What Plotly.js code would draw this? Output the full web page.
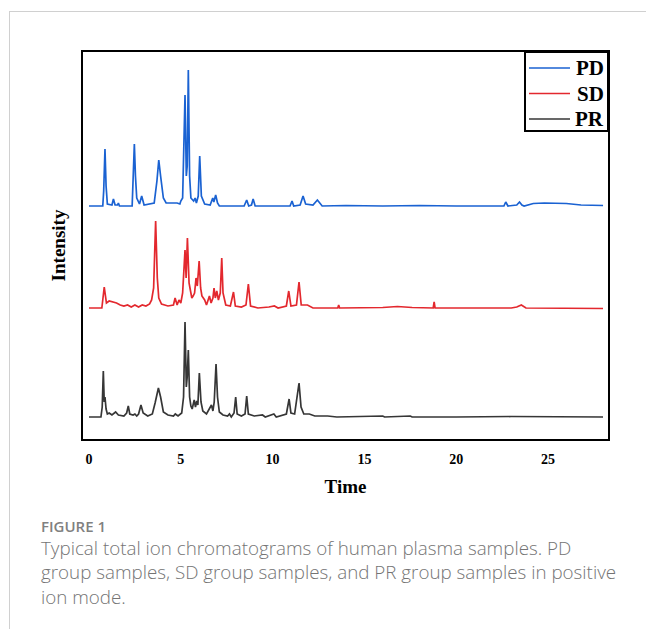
<!DOCTYPE html>
<html>
<head>
<meta charset="utf-8">
<script src="https://cdn.plot.ly/plotly-3.0.1.min.js"></script>
<style>
html,body{margin:0;padding:0;background:#fff;}
#chart{width:646px;height:629px;}
</style>
</head>
<body>
<div id="chart"></div>
<script>
// Series names
const seriesNames = ["PD", "SD", "PR"];
const xTickVals = [0, 5, 10, 15, 20, 25];
const xTickText = ["0", "5", "10", "15", "20", "25"];

// [time, intensity above own baseline] (arbitrary units)
const pdPoints = [[0,0],[0.75,0],[0.8,15],[0.87,57],[0.93,20],[1.0,2],[1.25,1],[1.33,7],[1.42,1],[1.55,1],[1.6,3],[1.66,0],
  [2.35,0],[2.47,62],[2.53,30],[2.6,8],[2.75,2],[2.87,10],[3.0,1],[3.55,3],[3.7,25],[3.8,46],[3.9,30],[4.05,8],[4.2,3],
  [4.5,3],[4.8,3],[4.95,2],[5.0,5],[5.1,8],[5.23,111],[5.3,30],[5.35,40],[5.41,136],[5.48,30],[5.55,8],[5.7,5],[5.78,8],
  [5.85,3],[5.95,10],[6.03,50],[6.12,10],[6.3,2],[6.6,1],[6.74,8],[6.8,4],[6.9,11],[7.0,3],[7.1,0],[8.45,0],[8.59,6],
  [8.7,0],[8.85,1],[8.94,7],[9.05,0],[10.95,0],[11.06,5],[11.15,0],[11.5,1],[11.66,10],[11.8,2],[12.2,1],[12.44,6],
  [12.7,0],[14,0.5],[16,0],[18,0.5],[20,0],[22.6,0],[22.7,4],[22.76,1],[22.82,0],[23.3,1],[23.45,4],[23.58,1],[23.7,0],
  [24.2,2.5],[24.8,3],[26.0,2.5],[26.8,1],[28.0,0.5]];

const sdPoints = [[0,0],[0.7,0],[0.83,21],[0.95,5],[1.1,7],[1.3,6],[1.5,5],[1.7,3],[1.9,2],[2.1,3],[2.3,1],[2.5,3],[2.7,1],
  [2.9,3],[3.1,2],[3.3,4],[3.41,8],[3.52,20],[3.63,87],[3.72,30],[3.8,10],[3.95,4],[4.3,2],[4.6,3],[4.69,10],[4.8,3],
  [4.9,8],[5.0,5],[5.1,15],[5.23,58],[5.29,30],[5.36,70],[5.45,25],[5.52,18],[5.6,10],[5.67,12],[5.75,15],[5.83,30],
  [5.9,22],[6.0,47],[6.08,20],[6.15,12],[6.3,8],[6.4,3],[6.56,12],[6.65,5],[6.75,10],[6.81,20],[6.88,10],[6.96,17],
  [7.05,8],[7.15,15],[7.23,50],[7.3,15],[7.45,3],[7.7,2],[7.87,16],[7.97,2],[8.3,1],[8.55,3],[8.68,24],[8.8,2],[9.2,0],
  [9.8,1],[10.1,2],[10.3,0],[10.75,2],[10.88,17],[11.0,2],[11.3,3],[11.44,26],[11.56,3],[11.9,3],[12.2,0],[13.55,0],
  [13.6,3],[13.65,0],[16.0,0.5],[16.8,1.5],[17.6,0.5],[18.75,0],[18.8,6],[18.85,0],[20.5,0],[23.0,0],[23.3,1],[23.55,3],
  [23.8,0],[28.0,-0.5]];

const prPoints = [[0,0],[0.65,0],[0.72,10],[0.78,46],[0.83,15],[0.87,20],[0.93,8],[1.0,3],[1.1,4],[1.25,2],[1.45,5],[1.6,2],
  [1.9,1],[2.05,4],[2.14,11],[2.22,3],[2.4,2],[2.5,3],[2.6,1],[2.7,3],[2.83,12],[2.95,4],[3.2,1],[3.45,3],[3.6,14],
  [3.78,29],[3.9,20],[4.05,5],[4.3,2],[4.6,1],[4.7,3],[4.85,1],[5.05,4],[5.15,20],[5.23,95],[5.3,30],[5.35,40],[5.41,67],
  [5.48,20],[5.55,11],[5.62,8],[5.73,17],[5.8,10],[5.87,16],[5.93,12],[6.01,44],[6.1,15],[6.2,6],[6.4,3],[6.55,8],
  [6.67,12],[6.75,6],[6.82,15],[6.92,53],[7.0,20],[7.1,5],[7.3,2],[7.55,1],[7.65,3],[7.75,0],[7.9,4],[7.99,20],[8.07,3],
  [8.3,1],[8.5,3],[8.59,21],[8.68,3],[9.0,1],[9.45,2],[9.6,0],[10.07,3],[10.2,0],[10.75,3],[10.9,18],[11.0,4],[11.2,3],
  [11.44,34],[11.55,10],[11.7,3],[12.0,3],[12.3,1],[13.0,1],[13.5,0],[16.0,1],[16.1,0],[17.5,1],[17.6,0],[20,0],
  [23.0,0.5],[28.0,0]];

// Caption lines
const captionTitle = "FIGURE 1";
const captionLines = [
  "Typical total ion chromatograms of human plasma samples. PD",
  "group samples, SD group samples, and PR group samples in positive",
  "ion mode."
];

// Vertical stacking offsets of the three chromatograms (display only)
const offsets = [233, 131, 22];
const colors = ["#1a62d2", "#e3282e", "#363636"];
const allPoints = [pdPoints, sdPoints, prPoints];

const traces = allPoints.map((pts, i) => ({
  type: "scatter",
  mode: "lines",
  name: seriesNames[i],
  x: pts.map(p => p[0]),
  y: pts.map(p => p[1] + offsets[i]),
  line: {color: colors[i], width: 1.7},
  showlegend: false,
  hoverinfo: "skip"
}));

const serif = "'Liberation Serif', 'Times New Roman', serif";
const sans = "'Open Sans', sans-serif";
const L = 83, T = 52, W = 525, H = 387;
const px = x => (x - L) / W;
const py = y => (T + H - y) / H;

// custom legend (box, line samples, labels) in paper coordinates
const legendRows = [68, 93.5, 119];
const legendShapes = [
  {type: "rect", xref: "paper", yref: "paper", x0: px(525), x1: 1, y0: py(131), y1: 1,
   line: {color: "#000", width: 2}, fillcolor: "#fff", layer: "above"}
].concat(seriesNames.map((n, i) => ({
  type: "line", xref: "paper", yref: "paper", x0: px(529), x1: px(570), y0: py(legendRows[i]), y1: py(legendRows[i]),
  line: {color: colors[i], width: 1.7}, layer: "above"
})));
const legendAnnots = seriesNames.map((n, i) => ({
  xref: "paper", yref: "paper", x: px(606), y: py(legendRows[i]), xanchor: "right", yanchor: "middle",
  showarrow: false, text: n, font: {family: serif, size: 21, color: "#000", weight: "bold"}
}));

const layout = {
  width: 646, height: 629,
  margin: {l: L, r: 646 - L - W, t: T, b: 629 - T - H},
  paper_bgcolor: "#fff", plot_bgcolor: "#fff",
  showlegend: false,
  xaxis: {
    range: [-0.327, 28.27],
    tickvals: xTickVals, ticktext: xTickText,
    ticks: "", showgrid: false, zeroline: false,
    showline: true, mirror: true, linecolor: "#000", linewidth: 2,
    tickfont: {family: serif, size: 14, color: "#000", weight: "bold"},
    ticklabelstandoff: 6,
    title: {text: "Time", font: {family: serif, size: 19, color: "#000", weight: "bold"}, standoff: 14},
    automargin: false, fixedrange: true
  },
  yaxis: {
    range: [0, 387],
    showticklabels: false, ticks: "", showgrid: false, zeroline: false,
    showline: true, mirror: true, linecolor: "#000", linewidth: 2,
    title: {text: "Intensity", font: {family: serif, size: 19, color: "#000", weight: "bold"}, standoff: 10},
    automargin: false, fixedrange: true
  },
  shapes: [
    {type: "line", xref: "paper", yref: "paper", x0: px(9.5), x1: px(9.5), y0: py(11), y1: py(629), line: {color: "#d0d0d0", width: 1}},
    {type: "line", xref: "paper", yref: "paper", x0: px(9.5), x1: px(646), y0: py(11.5), y1: py(11.5), line: {color: "#d0d0d0", width: 1}}
  ].concat(legendShapes),
  annotations: legendAnnots.concat([
    {xref: "paper", yref: "paper", x: px(39), y: py(526), xanchor: "left", yanchor: "middle", showarrow: false,
     text: captionTitle, font: {family: sans, size: 15, color: "#808080", weight: 600}},
    {xref: "paper", yref: "paper", x: px(39), y: py(572.5), xanchor: "left", yanchor: "middle", align: "left", showarrow: false,
     text: captionLines.join("<br>"), font: {family: sans, size: 18.8, color: "#747474", weight: 300}}
  ])
};

Plotly.newPlot("chart", traces, layout, {displayModeBar: false, staticPlot: true});
</script>
</body>
</html>
